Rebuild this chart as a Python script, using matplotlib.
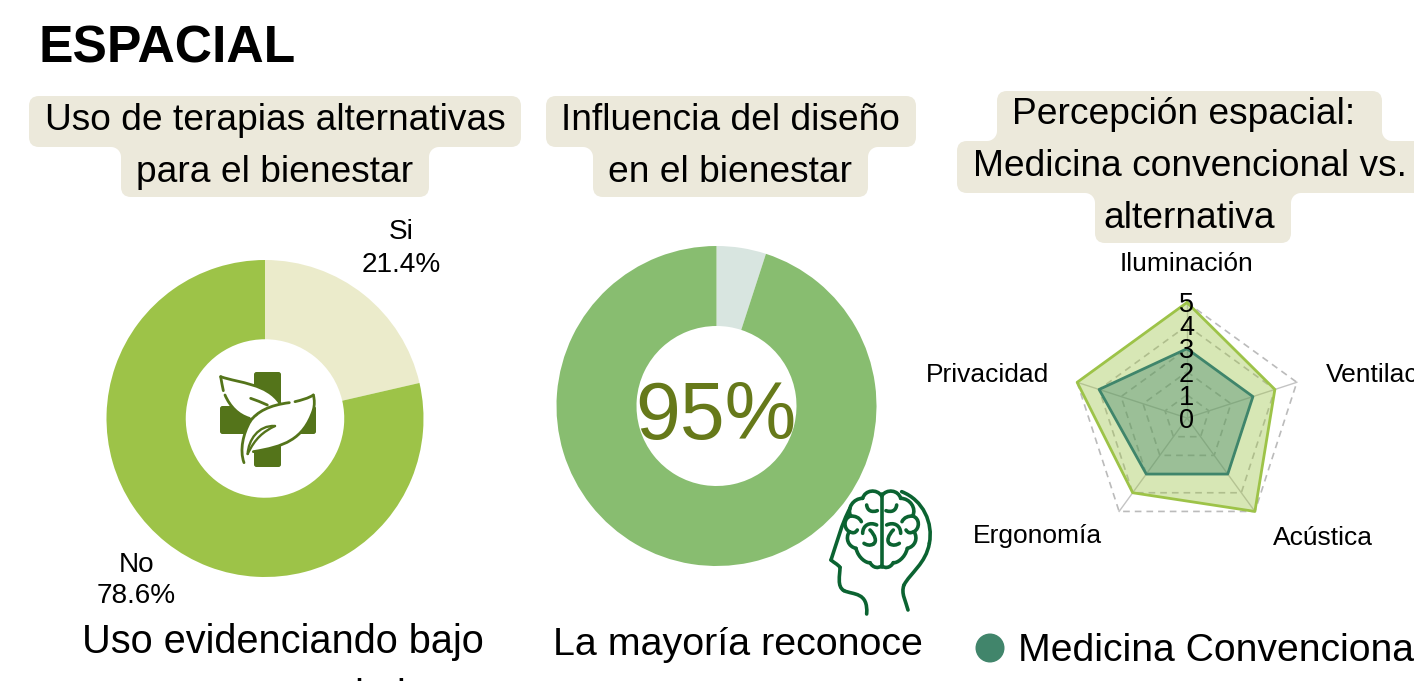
import numpy as np
import matplotlib
matplotlib.use("Agg")
import matplotlib.pyplot as plt
from matplotlib.patches import FancyBboxPatch, PathPatch, Rectangle, Circle
from matplotlib.path import Path

W, H = 1414, 681
plt.rcParams['font.family'] = ['Liberation Sans', 'DejaVu Sans']

title = "ESPACIAL"
pie1_title = ["Uso de terapias alternativas", "para el bienestar"]
pie1_labels = ["Si", "No"]
pie1_values = [21.4, 78.6]
pie2_title = ["Influencia del diseño", "en el bienestar"]
pie2_values = [5, 95]
pie2_center_text = "95%"
radar_title = ["Percepción espacial:", "Medicina convencional vs.", "alternativa"]
radar_axes = ["Iluminación", "Ventilación", "Acústica", "Ergonomía", "Privacidad"]
convencional = [3, 3, 3, 3, 4]
alternativa = [5, 4, 5, 4, 5]
radar_ticks = [0, 1, 2, 3, 4, 5]
legend_label = "Medicina Convencional"
caption1 = ["Uso evidenciando bajo", "conocimiento"]
caption2 = ["La mayoría reconoce"]

fig = plt.figure(figsize=(W / 100, H / 100), dpi=100, facecolor='white')

ov = fig.add_axes([0, 0, 1, 1], zorder=5)
ov.set_xlim(0, W); ov.set_ylim(H, 0); ov.axis('off'); ov.patch.set_alpha(0)
bg = fig.add_axes([0, 0, 1, 1], zorder=0)
bg.set_xlim(0, W); bg.set_ylim(H, 0); bg.axis('off')

PILL = '#ece9db'

def axes_px(cx, cy, r, **kw):
    return fig.add_axes([(cx - r) / W, 1 - (cy + r) / H, 2 * r / W, 2 * r / H], zorder=2, **kw)

def pill(x0, x1, y0, y1):
    bg.add_patch(FancyBboxPatch((x0 + 10, y0 + 10), x1 - x0 - 20, y1 - y0 - 20,
                                boxstyle="round,pad=10,rounding_size=10", fc=PILL, ec='none', zorder=1))

def join(x0, x1, y, dy, r=10):
    # narrow pill [x0, x1] meets a wider one at height y; dy points into the narrow pill
    ys = min(y, y + dy * (r + 1)) if dy > 0 else y + dy * (r + 1)
    bg.add_patch(Rectangle((x0, ys - (1 if dy > 0 else 0)), x1 - x0, r + 2, fc=PILL, ec='none', zorder=1))
    for x, dx in ((x0, -1), (x1, 1)):
        xs = min(x, x + dx * r); yc = min(y, y + dy * r)
        bg.add_patch(Rectangle((xs, yc), r, r, fc=PILL, ec='none', zorder=2))
        bg.add_patch(Circle((x + dx * r, y + dy * r), r, fc='white', ec='none', zorder=3))

ov.text(39, 49, title, fontsize=37.2, fontweight='bold', va='center', ha='left', color='black')

TFS = 26.7
def line(s, cx, y, fs=TFS):
    ov.text(cx, y, s, fontsize=fs, ha='center', va='center', color='black')

pill(29, 521, 96, 147); pill(121, 429, 146, 197)
join(121, 429, 147, 1)
line(pie1_title[0], 275, 121); line(pie1_title[1], 275, 173)

pill(546, 916, 96, 147); pill(593, 868, 146, 197)
join(593, 868, 147, 1)
line(pie2_title[0], 730.5, 121); line(pie2_title[1], 730.5, 173)

pill(997, 1382, 91, 142); pill(957, 1424, 141, 193); pill(1095, 1291, 192, 243)
join(997, 1382, 141, -1)
join(1095, 1291, 193, 1)
line(radar_title[0], 1184, 114); line(radar_title[1], 1189.5, 166); line(radar_title[2], 1189.5, 218)

# Pie 1
a1 = axes_px(265, 418.5, 158.5)
a1.pie(pie1_values, colors=['#ebebcb', '#9dc348'], startangle=90, counterclock=False, radius=1,
       wedgeprops=dict(width=0.5, edgecolor='none'))
a1.set_xlim(-1, 1); a1.set_ylim(-1, 1)
LFS = 20.2
ov.text(401, 232, pie1_labels[0], fontsize=LFS, ha='center', va='center')
ov.text(401, 265, f"{pie1_values[0]}%", fontsize=LFS, ha='center', va='center')
ov.text(137, 565, pie1_labels[1], fontsize=LFS, ha='center', va='center')
ov.text(136, 596, f"{pie1_values[1]}%", fontsize=LFS, ha='center', va='center')

# Pie 2
a2 = axes_px(716.5, 406, 160)
a2.pie(pie2_values, colors=['#d8e5e0', '#88bd70'], startangle=90, counterclock=False, radius=1,
       wedgeprops=dict(width=0.5, edgecolor='none'))
a2.set_xlim(-1, 1); a2.set_ylim(-1, 1)
ov.text(716, 418, pie2_center_text, fontsize=58, ha='center', va='center', color='#66791a')

# Radar
R = 115.5
a3 = axes_px(1187, 418, R, projection='polar')
a3.set_theta_zero_location('N'); a3.set_theta_direction(-1)
a3.set_ylim(0, radar_ticks[-1]); a3.axis('off')
n = len(radar_axes)
th = np.arange(n) * 2 * np.pi / n
thc = np.append(th, th[0])
close = lambda v: np.append(v, v[0])
for t in radar_ticks[1:]:
    a3.plot(thc, [t] * (n + 1), color='#bbbbbb', lw=1.2, ls=(0, (4, 3)), clip_on=False, zorder=1)
for x in th:
    a3.plot([x, x], [0, radar_ticks[-1]], color='#c4c4c4', lw=1, clip_on=False, zorder=1)
a3.fill(thc, close(alternativa), color='#9dc348', alpha=0.4, lw=0, zorder=2, clip_on=False)
a3.plot(thc, close(alternativa), color='#9dc348', lw=2, zorder=3, clip_on=False)
a3.fill(thc, close(convencional), color='#41856b', alpha=0.4, lw=0, zorder=4, clip_on=False)
a3.plot(thc, close(convencional), color='#3f856b', lw=2, zorder=5, clip_on=False)
for t, y in zip(radar_ticks, np.linspace(418, 301, len(radar_ticks))):
    ov.text(1186.5, y + 3.5, str(t), fontsize=19.5, ha='center', va='center')

AFS = 19
ov.text(1186, 264, radar_axes[0], fontsize=AFS, ha='center', va='center')
ov.text(1326, 375, radar_axes[1], fontsize=AFS, ha='left', va='center', clip_on=True)
ov.text(1323, 538, radar_axes[2], fontsize=AFS, ha='center', va='center')
ov.text(1037, 536, radar_axes[3], fontsize=AFS, ha='center', va='center')
ov.text(988, 375, radar_axes[4], fontsize=AFS, ha='center', va='center')

# Legend
ov.add_patch(Circle((990, 648), 14.5, fc='#41856b', ec='none'))
ov.text(1018, 651, legend_label, fontsize=28.2, ha='left', va='center', clip_on=True)

# Captions
ov.text(283, 642, caption1[0], fontsize=28.6, ha='center', va='center')
ov.text(249, 708, caption1[1], fontsize=28.6, ha='left', va='baseline', clip_on=True)
ov.text(737.5, 645, caption2[0], fontsize=28.4, ha='center', va='center')

# ---- icon helpers: points given in zoomed-crop units
def bez(pts, ox, oy, ec, lw, fc='none'):
    v = [(ox + x / 3, oy + y / 3) for x, y in pts]
    codes = [Path.MOVETO] + [Path.CURVE4] * (len(v) - 1)
    ov.add_patch(PathPatch(Path(v, codes), fc=fc, ec=ec, lw=lw, capstyle='round', joinstyle='round'))

# Icon: cross and leaves
dg = '#54741a'
ov.add_patch(FancyBboxPatch((254, 372), 27, 95, boxstyle="round,pad=0,rounding_size=2.5", fc=dg, ec='none'))
ov.add_patch(FancyBboxPatch((220, 406), 96, 28, boxstyle="round,pad=0,rounding_size=2.5", fc=dg, ec='none'))
OX, OY = 180, 350
bez([(122, 80), (180, 100), (260, 100), (300, 160),
     (300, 180), (240, 190), (210, 205),
     (175, 195), (150, 170), (130, 130),
     (125, 110), (122, 95), (122, 80)], OX, OY, 'none', 0, fc='white')
bez([(400, 135), (345, 155), (260, 165), (210, 215),
     (190, 250), (180, 300), (192, 338),
     (200, 330), (210, 315), (220, 305),
     (310, 290), (370, 270), (400, 180),
     (405, 165), (405, 150), (400, 135)], OX, OY, 'none', 0, fc='white')
bez([(122, 80), (180, 100), (260, 100), (300, 160)], OX, OY, dg, 2)
bez([(122, 80), (124, 95), (128, 110), (130, 122)], OX, OY, dg, 2)
bez([(135, 135), (150, 170), (175, 195), (208, 205)], OX, OY, dg, 2)
bez([(212, 145), (228, 150), (245, 158), (262, 165)], OX, OY, dg, 2)
bez([(400, 135), (385, 145), (365, 150), (345, 155)], OX, OY, dg, 2)
bez([(328, 158), (270, 165), (230, 185), (210, 215)], OX, OY, dg, 2)
bez([(210, 215), (190, 250), (178, 300), (192, 338)], OX, OY, dg, 2)
bez([(220, 305), (310, 290), (370, 270), (400, 180)], OX, OY, dg, 2)
bez([(400, 180), (404, 165), (404, 150), (400, 135)], OX, OY, dg, 2)
bez([(285, 228), (235, 225), (205, 270), (203, 312)], OX, OY, dg, 1.7)
bez([(285, 228), (250, 245), (225, 265), (203, 312)], OX, OY, dg, 1.7)

# Icon: head and brain
hg = '#0b6331'
LW = 2.6
BX, BY = 820, 480
bez([(90, 85), (65, 130), (50, 190), (33, 240)], BX, BY, hg, LW)
bez([(33, 240), (42, 248), (52, 252), (60, 262)], BX, BY, hg, LW)
bez([(60, 262), (60, 285), (50, 320), (72, 332)], BX, BY, hg, LW)
bez([(72, 332), (100, 345), (145, 335), (140, 402)], BX, BY, hg, LW)
bez([(245, 35), (310, 60), (340, 130), (328, 190)], BX, BY, hg, LW)
bez([(328, 190), (318, 250), (270, 280), (252, 315)], BX, BY, hg, LW)
bez([(252, 315), (242, 340), (258, 365), (264, 390)], BX, BY, hg, LW)
ov.plot([BX + 185 / 3, BX + 185 / 3], [BY + 42 / 3, BY + 262 / 3], color=hg, lw=LW, solid_capstyle='round')

left_half = [
    [(185, 48), (170, 25), (135, 30), (128, 55)],
    [(128, 55), (100, 55), (80, 85), (92, 108)],
    [(92, 108), (70, 115), (70, 145), (88, 155)],
    [(88, 155), (75, 175), (85, 200), (108, 205)],
    [(108, 205), (115, 235), (140, 250), (150, 248)],
    [(150, 248), (160, 265), (175, 265), (185, 258)],
    [(140, 75), (142, 92), (155, 98), (172, 92)],
    [(92, 108), (105, 108), (118, 112), (124, 125)],
    [(88, 155), (100, 160), (105, 160), (112, 150)],
    [(128, 160), (128, 135), (150, 125), (170, 135)],
    [(150, 150), (165, 165), (172, 185), (160, 192)],
    [(160, 192), (150, 198), (140, 195), (132, 190)],
]
for seg in left_half:
    bez(seg, BX, BY, hg, LW)
    bez([(370 - x, y) for x, y in seg], BX, BY, hg, LW)

fig.savefig('out.png', dpi=100, facecolor='white')
